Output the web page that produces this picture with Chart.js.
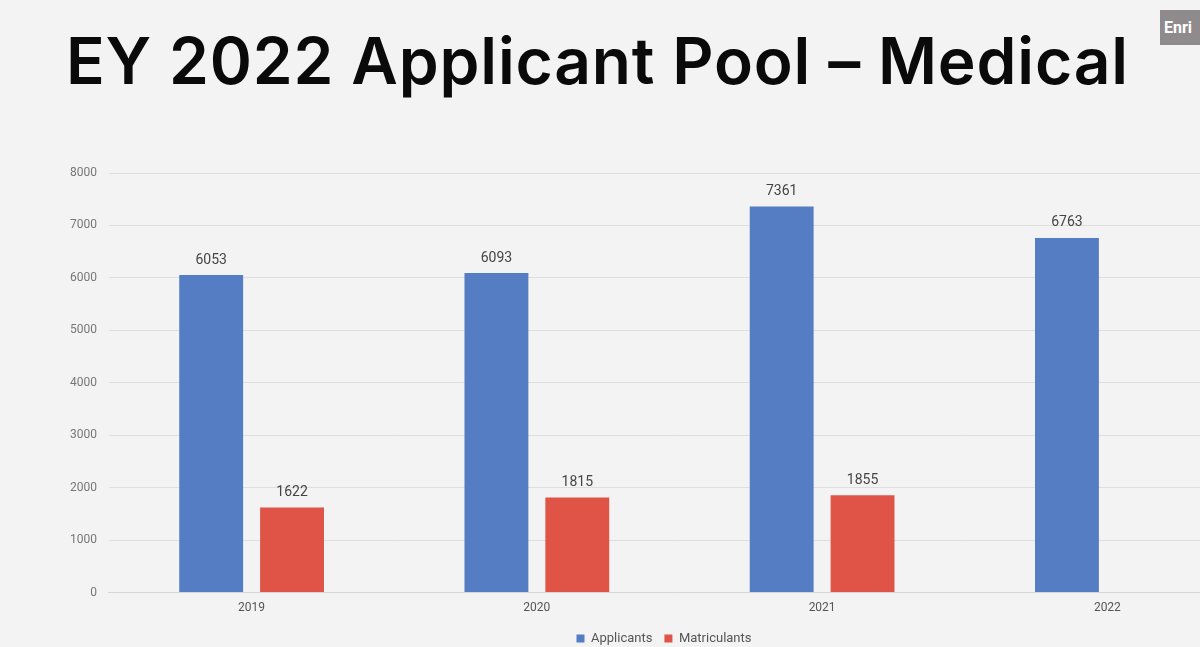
<!DOCTYPE html>
<html>
<head>
<meta charset="utf-8">
<script src="https://cdn.jsdelivr.net/npm/chart.js@4.4.0/dist/chart.umd.min.js"></script>
<style>
  html, body { margin: 0; padding: 0; background: #f3f3f3; overflow: hidden; width: 1200px; height: 647px; }
  #title { position: absolute; left: 66px; top: 22px; font-family: Inter, sans-serif; font-weight: 600; font-size: 64px; color: #0a0a0a; white-space: nowrap; letter-spacing: 0.85px; }
  #badge { position: absolute; left: 1160px; top: 10px; width: 40px; height: 35px; background: #8f8b8d; color: #fff; font-family: Roboto, sans-serif; font-weight: bold; font-size: 16px; line-height: 35px; padding-left: 4px; box-sizing: border-box; overflow: hidden; white-space: nowrap; }
  #wrap { position: absolute; left: 0; top: 150px; width: 1348px; height: 505px; }
</style>
</head>
<body>
<div id="title">EY 2022 Applicant Pool – Medical</div>
<div id="badge">Enri</div>
<div id="wrap"><canvas id="chart" width="1348" height="505"></canvas></div>
<script>
const years = ['2019', '2020', '2021', '2022'];
const applicants = [6053, 6093, 7361, 6763];
const matriculants = [1622, 1815, 1855, null];
const yTicks = [0, 1000, 2000, 3000, 4000, 5000, 6000, 7000, 8000];

// values above each bar
const barLabels = {
    id: 'barLabels',
    afterDatasetsDraw(chart) {
        const ctx = chart.ctx;
        ctx.save();
        ctx.font = '14px Roboto, sans-serif';
        ctx.fillStyle = '#444';
        ctx.textAlign = 'center';
        ctx.textBaseline = 'bottom';
        chart.data.datasets.forEach((ds, i) => {
            chart.getDatasetMeta(i).data.forEach((bar, j) => {
                if (ds.data[j] == null) return;
                ctx.fillText(ds.data[j], bar.x, bar.y - 8);
            });
        });
        ctx.restore();
    }
};

new Chart(document.getElementById('chart'), {
    type: 'bar',
    data: {
        labels: years,
        datasets: [{
            label: 'Applicants',
            data: applicants,
            backgroundColor: '#547dc3'
        }, {
            label: 'Matriculants',
            data: matriculants,
            backgroundColor: '#e05447'
        }]
    },
    options: {
        responsive: false,
        animation: false,
        devicePixelRatio: 1,
        categoryPercentage: 0.567,
        barPercentage: 0.79,
        layout: { padding: { left: 58, right: 78, top: 23, bottom: 0 } },
        scales: {
            x: {
                grid: { display: false, drawTicks: false },
                border: { color: '#d6d6d6' },
                ticks: { color: '#555', font: { family: 'Roboto', size: 12 }, padding: 8, maxRotation: 0 },
                afterFit: axis => { axis.height -= 3; }
            },
            y: {
                min: 0,
                max: 8000,
                afterBuildTicks: axis => { axis.ticks = yTicks.map(v => ({ value: v })); },
                grid: { color: '#dedede', drawTicks: false },
                border: { display: false },
                ticks: { color: '#777', font: { family: 'Roboto', size: 12 }, padding: 12, callback: v => String(v) }
            },
            // empty spacer on the right so the legend sits where the original does
            spacer: {
                type: 'linear',
                position: 'right',
                grid: { display: false, drawTicks: false },
                border: { display: false },
                ticks: { display: false },
                afterFit: axis => { axis.width = 20; }
            }
        },
        plugins: {
            legend: {
                position: 'bottom',
                labels: {
                    boxWidth: 8, boxHeight: 8, padding: 12,
                    color: '#555', font: { family: 'Roboto', size: 13 }
                }
            },
            tooltip: { enabled: false }
        }
    },
    plugins: [barLabels]
});
</script>
</body>
</html>
